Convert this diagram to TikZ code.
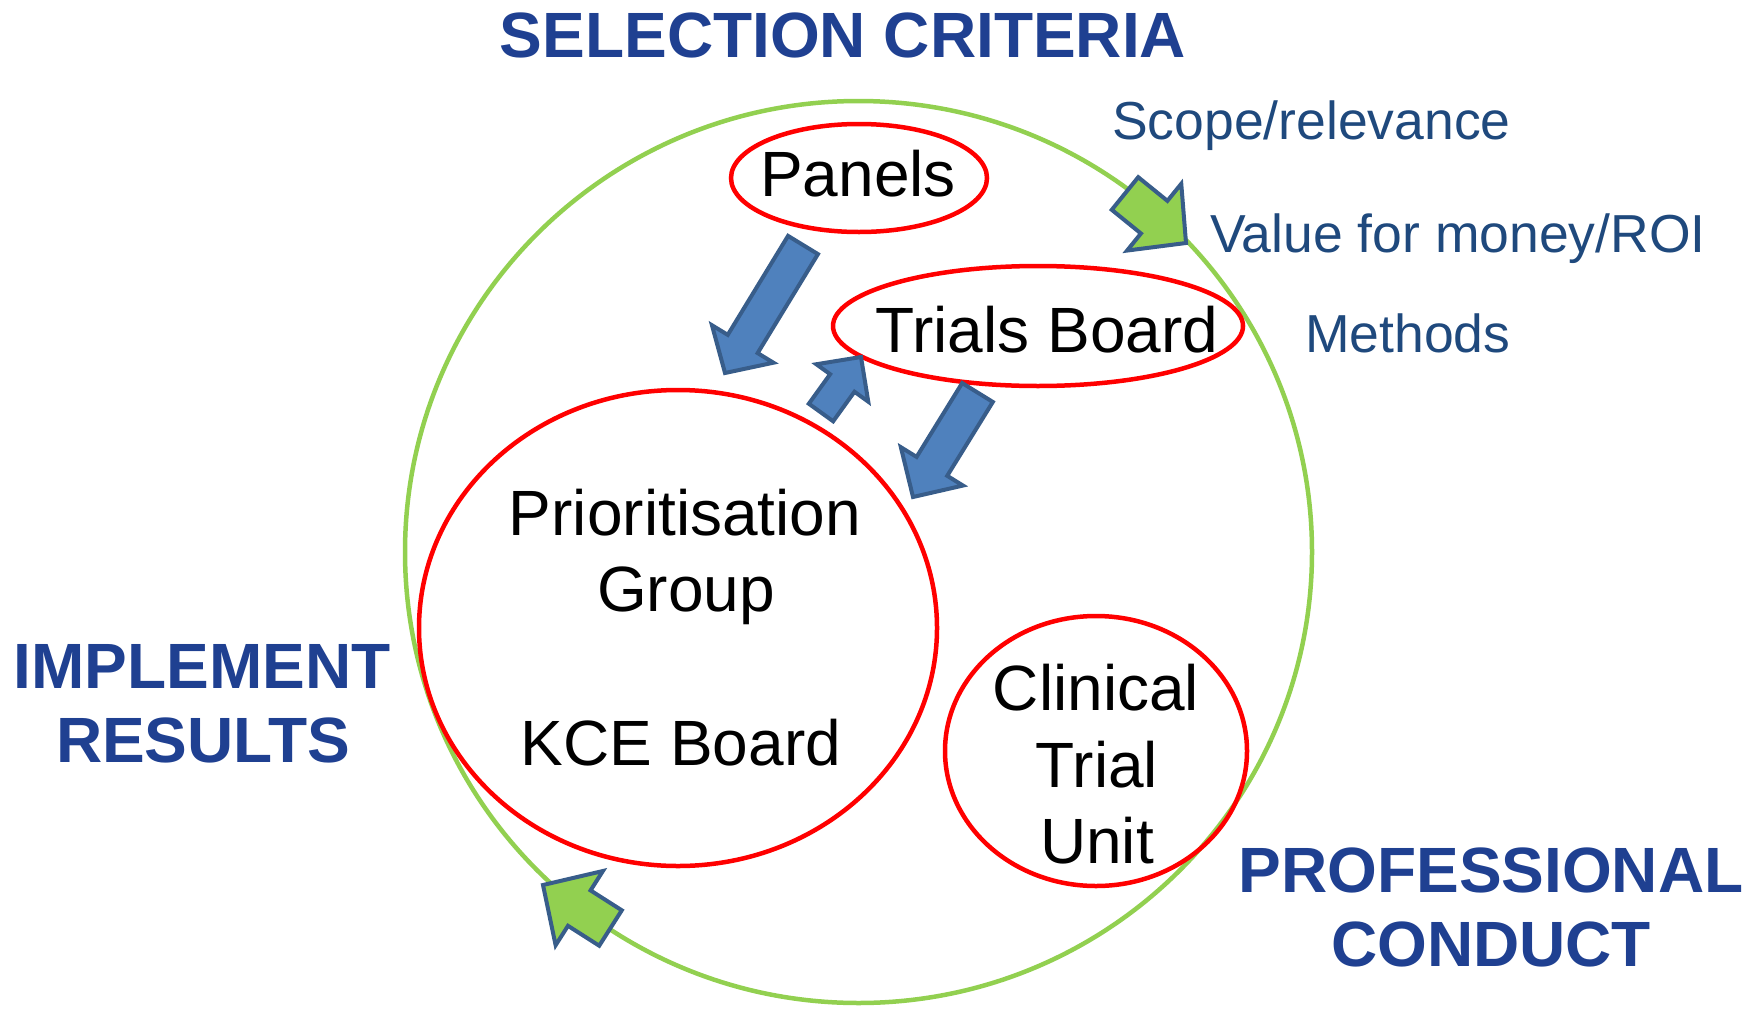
\documentclass[tikz,border=0pt]{standalone}
\usepackage{fontspec}
\setmainfont{Liberation Sans}
\usetikzlibrary{calc}
\definecolor{headblue}{RGB}{31,64,145}
\definecolor{subblue}{RGB}{31,73,125}
\definecolor{ringgreen}{RGB}{146,208,80}
\definecolor{arrowblue}{RGB}{79,129,189}
\definecolor{edgeblue}{RGB}{56,93,138}
\newcommand\blockarrow[7]{% #1 style, #2 tail, #3 tip, #4 half shaft, #5 half head, #6 head length, #7 name
  \coordinate (#7-t) at #2;
  \coordinate (#7-p) at #3;
  \coordinate (#7-h) at ($(#7-p)!#6!(#7-t)$);
  \draw[#1] ($(#7-t)!#4!90:(#7-p)$) -- ($(#7-h)!#4!90:(#7-p)$) -- ($(#7-h)!#5!90:(#7-p)$)
    -- (#7-p) -- ($(#7-h)!#5!-90:(#7-p)$) -- ($(#7-h)!#4!-90:(#7-p)$) -- ($(#7-t)!#4!-90:(#7-p)$) -- cycle;
}
\tikzset{
  heading/.style={text=headblue, font=\fontsize{64}{72}\selectfont\bfseries, anchor=base, inner sep=0pt},
  crit/.style={text=subblue, font=\fontsize{53.5}{60}\selectfont, anchor=base west, inner sep=0pt},
  body/.style={text=black, font=\fontsize{64}{72}\selectfont, anchor=base, inner sep=0pt},
  redell/.style={draw=red, line width=4.5pt},
  blueblock/.style={fill=arrowblue, draw=edgeblue, line width=4pt, line join=miter},
  greenblock/.style={fill=ringgreen, draw=edgeblue, line width=4pt, line join=miter},
}
\begin{document}
\begin{tikzpicture}[x=1pt,y=-1pt]
\useasboundingbox (0,0) rectangle (1758,1009);
% big ring
\draw[ringgreen, line width=4.5pt] (858.5,552) ellipse [x radius=453.5, y radius=451];
% ellipses
\draw[redell] (859,178) ellipse [x radius=128, y radius=54];
\draw[redell] (1038,326) ellipse [x radius=205, y radius=60];
\draw[redell] (678,628) ellipse [x radius=259, y radius=238];
\draw[redell] (1096,751) ellipse [x radius=151, y radius=135];
% block arrows
\blockarrow{blueblock}{(803,245)}{(725,373)}{17.5pt}{36pt}{34pt}{a1}
\blockarrow{blueblock}{(821,412.5)}{(861,357)}{15pt}{32pt}{32pt}{a2}
\blockarrow{blueblock}{(977.5,392.5)}{(913,497)}{18pt}{36.5pt}{36pt}{a3}
\blockarrow{greenblock}{(1125,193.5)}{(1186,243)}{21pt}{43pt}{41pt}{g1}
\blockarrow{greenblock}{(610.5,928)}{(543,885)}{21pt}{44pt}{43pt}{g2}
% texts
\node[heading] (sel) at (843,57) {SELECTION CRITERIA};
\node[heading] (imp1) at (202,688) {IMPLEMENT};
\node[heading] (imp2) at (203,762) {RESULTS};
\node[heading] (pro1) at (1491,892) {PROFESSIONAL};
\node[heading] (pro2) at (1491,966) {CONDUCT};
\node[crit] (c1) at (1112,139) {Scope/relevance};
\node[crit] (c2) at (1210,252) {Value for money/ROI};
\node[crit] (c3) at (1305,352) {Methods};
\node[body] (panels) at (858,196) {Panels};
\node[body] (trials) at (1047,352) {Trials Board};
\node[body] (prio1) at (685,535) {Prioritisation};
\node[body] (prio2) at (686,611) {Group};
\node[body] (kce) at (681,765) {KCE Board};
\node[body] (ctu1) at (1096,710) {Clinical};
\node[body] (ctu2) at (1097,787) {Trial};
\node[body] (ctu3) at (1097,863) {Unit};
\end{tikzpicture}
\end{document}
